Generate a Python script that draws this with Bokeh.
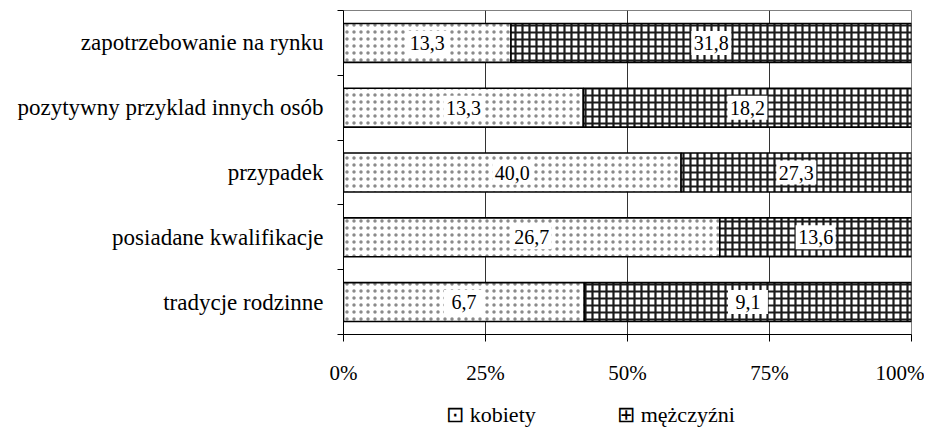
from bokeh.plotting import figure
from bokeh.models import (ColumnDataSource, Range1d, FixedTicker, PrintfTickFormatter,
                          LinearAxis)
from bokeh.core.properties import value
from bokeh.embed import file_html
from bokeh.resources import INLINE

# ---- data (bottom to top) ----
categories = ["tradycje rodzinne", "posiadane kwalifikacje", "przypadek",
              "pozytywny przyklad innych osób", "zapotrzebowanie na rynku"]
kobiety = [6.7, 26.7, 40.0, 13.3, 13.3]
mezczyzni = [9.1, 13.6, 27.3, 18.2, 31.8]
x_ticks = [0, 25, 50, 75, 100]
series_names = ["kobiety", "mężczyźni"]
legend_icons = ["⊡", "⊞"]

FONT = value("Liberation Serif")

n = len(categories)
ypos = [i + 0.5 for i in range(n)]
share_k = [k / (k + m) * 100 for k, m in zip(kobiety, mezczyzni)]
fmt = lambda v: f"{v:.1f}".replace(".", ",")

src = ColumnDataSource(dict(
    y=ypos,
    k_right=share_k,
    total=[100] * n,
    k_mid=[s / 2 for s in share_k],
    m_mid=[s + (100 - s) / 2 for s in share_k],
    k_lab=[fmt(v) for v in kobiety],
    m_lab=[fmt(v) for v in mezczyzni],
))

p = figure(width=924, height=439, output_backend="svg", toolbar_location=None,
           x_range=Range1d(0, 100), y_range=Range1d(0, n),
           min_border_left=343, min_border_right=13, min_border_top=10,
           min_border_bottom=105)
p.background_fill_color = "white"
p.border_fill_color = "white"
p.outline_line_color = "#808080"
p.outline_line_width = 1

# bars
rk = p.hbar(y="y", height=0.6, left=0, right="k_right", source=src,
            fill_color="white", line_color="black", line_width=1.6,
            hatch_pattern="dot", hatch_color="#8a8a8a", hatch_scale=7)
rm = p.hbar(y="y", height=0.6, left="k_right", right="total", source=src,
            fill_color="white", line_color="black", line_width=1.6,
            hatch_pattern="cross", hatch_color="#1a1a1a", hatch_scale=7,
            hatch_weight=2.2)

# value labels on white boxes
for xcol, tcol in (("k_mid", "k_lab"), ("m_mid", "m_lab")):
    p.rect(x=xcol, y="y", width=40, height=24, width_units="screen",
           height_units="screen", source=src, fill_color="white",
           line_color=None)
    p.text(x=xcol, y="y", text=tcol, source=src, text_align="center",
           text_baseline="middle", text_font=FONT, text_font_size="20px",
           text_color="black")

# x axis
p.xaxis.ticker = FixedTicker(ticks=x_ticks)
p.xaxis.formatter = PrintfTickFormatter(format="%d%%")
p.xaxis.axis_line_color = "black"
p.xaxis.major_tick_line_color = "black"
p.xaxis.major_tick_out = 7
p.xaxis.major_tick_in = 0
p.xaxis.minor_tick_line_color = None
p.xaxis.major_label_standoff = 19
p.xaxis.major_label_text_font = "Liberation Serif"
p.xaxis.major_label_text_font_size = "21px"
p.xaxis.major_label_text_color = "black"

# y axis: labels at category centres, ticks at boundaries
p.yaxis.ticker = FixedTicker(ticks=ypos, minor_ticks=list(range(n + 1)))
p.yaxis.major_label_overrides = {y: c for y, c in zip(ypos, categories)}
p.yaxis.axis_line_color = "black"
p.yaxis.major_tick_line_color = None
p.yaxis.major_tick_out = 0
p.yaxis.major_tick_in = 0
p.yaxis.minor_tick_line_color = "black"
p.yaxis.minor_tick_out = 6
p.yaxis.minor_tick_in = 0
p.yaxis.major_label_standoff = 14
p.yaxis.major_label_text_font = "Liberation Serif"
p.yaxis.major_label_text_font_size = "23px"
p.yaxis.major_label_text_color = "black"

p.xgrid.grid_line_color = "#333333"
p.xgrid.grid_line_width = 1
p.ygrid.grid_line_color = None

# legend row: a label-only axis below the x axis (pixel-unit range over the frame)
p.extra_x_ranges = {"leg": Range1d(0, 568)}
leg_pos = [147.5, 332.5]
leg_axis = LinearAxis(x_range_name="leg", ticker=FixedTicker(ticks=leg_pos))
leg_axis.major_label_overrides = {x: f"{ic} {nm}" for x, ic, nm in
                                  zip(leg_pos, legend_icons, series_names)}
leg_axis.axis_line_color = None
leg_axis.major_tick_line_color = None
leg_axis.minor_tick_line_color = None
leg_axis.major_tick_out = 0
leg_axis.major_tick_in = 0
leg_axis.major_label_standoff = 14
leg_axis.major_label_text_font = "Liberation Serif"
leg_axis.major_label_text_font_size = "22px"
leg_axis.major_label_text_color = "black"
p.add_layout(leg_axis, "below")

open("out.html", "w").write(file_html(p, INLINE))
